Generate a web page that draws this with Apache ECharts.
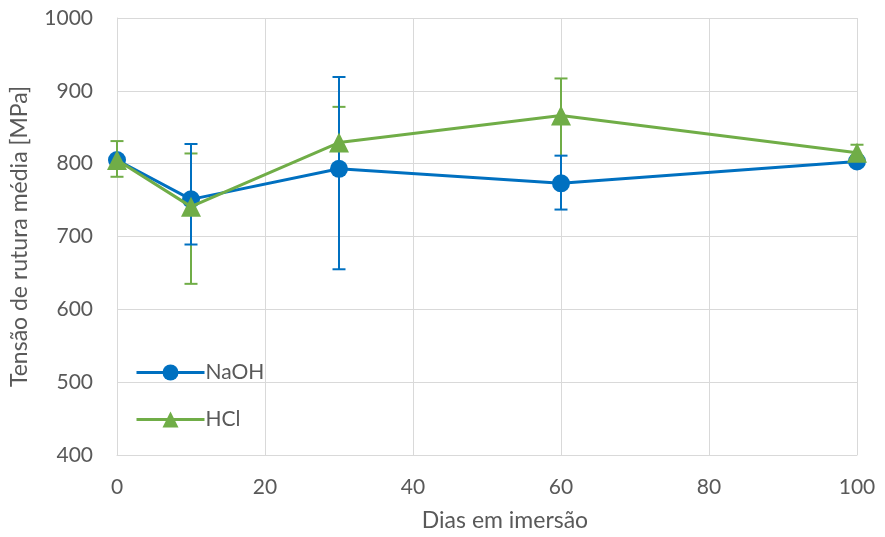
<!DOCTYPE html>
<html><head><meta charset="utf-8">
<script src="https://cdn.jsdelivr.net/npm/echarts@6/dist/echarts.min.js"></script>
<style>html,body{margin:0;padding:0;background:#fff}#c{width:885px;height:537px}</style>
</head><body><div id="c"></div>
<script>
const days = [0, 10, 30, 60, 100];
const naohMean = [805, 751, 793, 773, 803];
const naohLow  = [800, 689, 655, 737, 800];
const naohHigh = [810, 827, 919, 811, 806];
const hclMean  = [805, 741, 829, 866, 815];
const hclLow   = [782, 635, 790, 772, 806];
const hclHigh  = [831, 814, 878, 917, 826];
const xTicks = [0, 20, 40, 60, 80, 100];
const yTicks = [400, 500, 600, 700, 800, 900, 1000];

const BLUE = '#0070C0', GREEN = '#70AD47', FONT = 'Lato';

function errSeries(name, low, high, color) {
  return {
    type: 'custom', name: name + ' err', z: 2,
    data: days.map((d, i) => [d, low[i], high[i]]),
    renderItem: function (params, api) {
      const lo = api.coord([api.value(0), api.value(1)]);
      const hi = api.coord([api.value(0), api.value(2)]);
      const w = 6.5;
      const st = { stroke: color, lineWidth: 2 };
      return { type: 'group', children: [
        { type: 'line', shape: { x1: lo[0], y1: lo[1], x2: hi[0], y2: hi[1] }, style: st },
        { type: 'line', shape: { x1: lo[0] - w, y1: lo[1], x2: lo[0] + w, y2: lo[1] }, style: st },
        { type: 'line', shape: { x1: hi[0] - w, y1: hi[1], x2: hi[0] + w, y2: hi[1] }, style: st }
      ]};
    },
    silent: true
  };
}

const chart = echarts.init(document.getElementById('c'), null, { renderer: 'canvas' });
chart.setOption({
  animation: false,
  grid: { left: 117, right: 28, top: 18, bottom: 80 },
  legend: {
    orient: 'vertical', left: 130, top: 357, itemGap: 26,
    itemWidth: 68, itemHeight: 20,
    lineStyle: { width: 3 },
    textStyle: { fontFamily: FONT, fontSize: 21, color: '#595959', padding: [0, 0, 0, -4] },
    data: ['NaOH', 'HCl']
  },
  xAxis: {
    type: 'value', min: 0, max: 100, interval: 20,
    name: 'Dias em imersão', nameLocation: 'middle', nameGap: 54,
    nameTextStyle: { fontFamily: FONT, fontSize: 23, color: '#595959', padding: [0, 0, 0, 36] },
    axisLine: { show: true, lineStyle: { color: '#d9d9d9', width: 1 } },
    axisTick: { show: false },
    axisLabel: { fontFamily: FONT, fontSize: 21, color: '#595959', margin: 22,
      formatter: v => xTicks.includes(v) ? String(v) : '' },
    splitLine: { show: true, lineStyle: { color: '#d9d9d9', width: 1 } }
  },
  yAxis: {
    type: 'value', min: 400, max: 1000, interval: 100,
    name: 'Tensão de rutura média [MPa]', nameLocation: 'middle', nameGap: 86,
    nameTextStyle: { fontFamily: FONT, fontSize: 23, color: '#595959' },
    axisLine: { show: true, lineStyle: { color: '#d9d9d9', width: 1 } },
    axisTick: { show: false },
    axisLabel: { fontFamily: FONT, fontSize: 21, color: '#595959', margin: 24,
      formatter: v => yTicks.includes(v) ? String(v) : '' },
    splitLine: { show: true, lineStyle: { color: '#d9d9d9', width: 1 } }
  },
  series: [
    errSeries('HCl', hclLow, hclHigh, GREEN),
    errSeries('NaOH', naohLow, naohHigh, BLUE),
    {
      name: 'NaOH', type: 'line', z: 3,
      data: days.map((d, i) => [d, naohMean[i]]),
      symbol: 'circle', symbolSize: 18,
      lineStyle: { color: BLUE, width: 3 },
      itemStyle: { color: BLUE }
    },
    {
      name: 'HCl', type: 'line', z: 4,
      data: days.map((d, i) => [d, hclMean[i]]),
      symbol: 'triangle', symbolSize: 20,
      lineStyle: { color: GREEN, width: 3 },
      itemStyle: { color: GREEN }
    }
  ]
});
</script></body></html>
